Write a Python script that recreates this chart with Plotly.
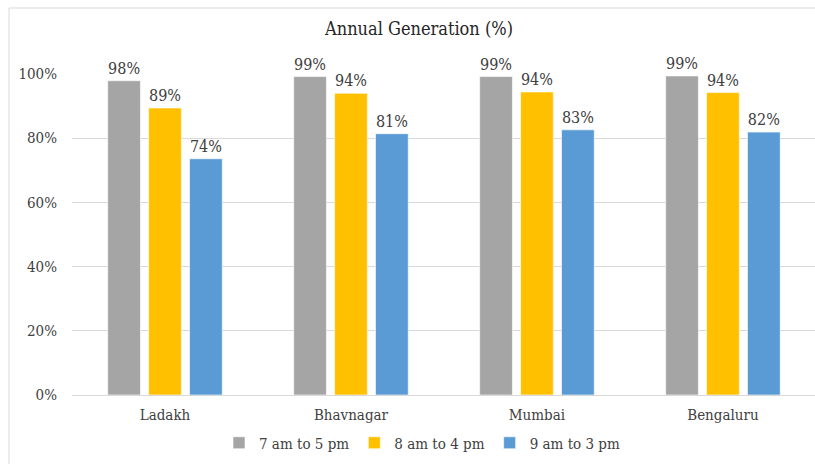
import plotly.graph_objects as go

# Sites and share of annual generation captured in each daytime window (%)
sites = ["Ladakh", "Bhavnagar", "Mumbai", "Bengaluru"]
window_names = ["7 am to 5 pm", "8 am to 4 pm", "9 am to 3 pm"]
gen_7_to_5 = [97.9, 99.2, 99.2, 99.4]
gen_8_to_4 = [89.4, 94.0, 94.4, 94.2]
gen_9_to_3 = [73.6, 81.4, 82.6, 81.9]
y_ticks = [0, 20, 40, 60, 80, 100]
y_tick_labels = ["0%", "20%", "40%", "60%", "80%", "100%"]

series = [gen_7_to_5, gen_8_to_4, gen_9_to_3]
colors = ["#A5A5A5", "#FFC000", "#5B9BD5"]

FONT = "DejaVu Serif Condensed, Liberation Serif, serif"

fig = go.Figure()
for name, vals, col in zip(window_names, series, colors):
    fig.add_trace(go.Bar(
        x=sites, y=vals, name=name,
        marker=dict(color=col, line=dict(color="rgba(255,255,255,0.6)", width=1)),
        texttemplate="%{y:.0f}%", textposition="outside",
        textfont=dict(family=FONT, size=16, color="#404040"),
        cliponaxis=False,
    ))

W, H = 815, 464
L, R, T, B = 72, 0, 74, 69
pw = W - L - R
ph = H - T - B

def px_x(p):
    return (p - L) / pw

def px_y(p):
    return (H - B - p) / ph

fig.update_layout(
    width=W, height=H,
    margin=dict(l=L, r=R, t=T, b=B, pad=0),
    paper_bgcolor="white", plot_bgcolor="white",
    barmode="group", bargap=0.34, bargroupgap=0.2,
    font=dict(family=FONT, size=15, color="#595959"),
    title=dict(text="Annual Generation (%)", xref="container", x=419 / W,
               xanchor="center", yref="container", y=1 - 29 / H, yanchor="middle",
               font=dict(family=FONT, size=18, color="#262626")),
    showlegend=True,
    legend=dict(orientation="h", x=px_x(422), xanchor="center",
                y=px_y(443), yanchor="middle",
                font=dict(family=FONT, size=15, color="#404040"),
                itemwidth=30, traceorder="normal"),
    xaxis=dict(range=[-0.5, 3.495], showgrid=False, showline=True,
               linecolor="#D9D9D9", linewidth=1, ticks="",
               ticklabelstandoff=6,
               tickfont=dict(family=FONT, size=15, color="#404040")),
    yaxis=dict(range=[0, 100], tickvals=y_ticks, ticktext=y_tick_labels,
               showgrid=True, gridcolor="#D9D9D9", gridwidth=1,
               zeroline=False, showline=False, ticks="",
               ticklabelstandoff=14,
               tickfont=dict(family=FONT, size=15, color="#404040")),
    shapes=[dict(type="rect", xref="paper", yref="paper",
                 x0=px_x(9), x1=px_x(830), y0=px_y(480), y1=px_y(8),
                 line=dict(color="#D9D9D9", width=1), fillcolor="rgba(0,0,0,0)",
                 layer="below")],
)

fig.write_html("out.html")
